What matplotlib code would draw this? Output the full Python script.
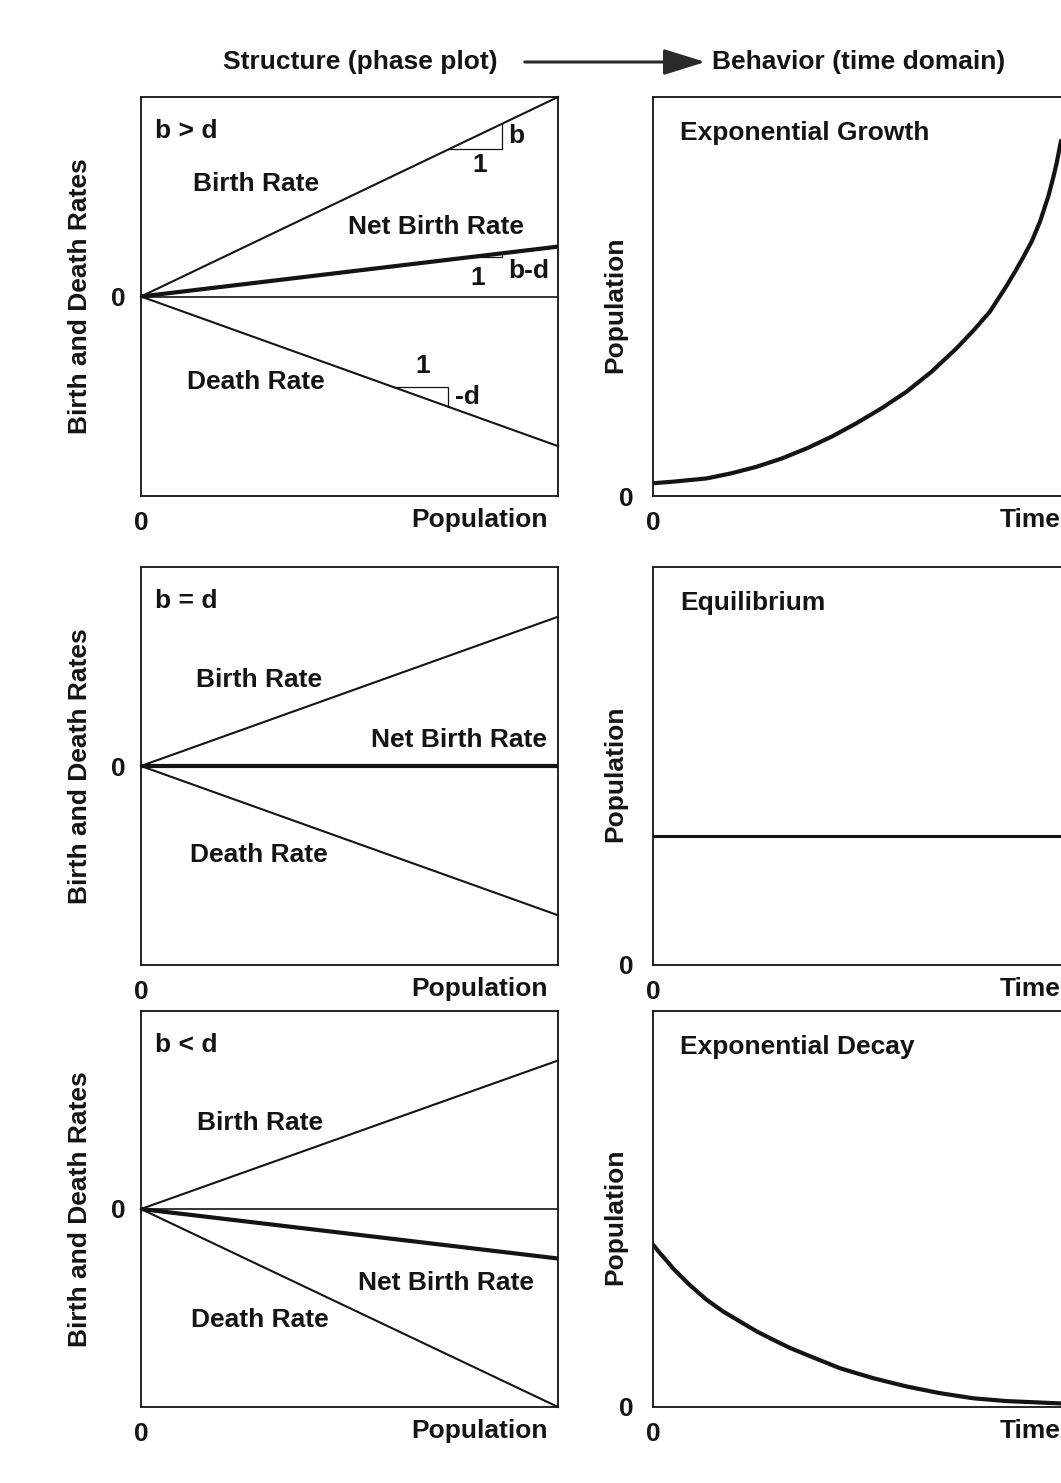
import numpy as np
import matplotlib
matplotlib.use('Agg')
import matplotlib.pyplot as plt
from matplotlib.patches import FancyArrowPatch

# --- data ----------------------------------------------------------------
conditions = ['b > d', 'b = d', 'b < d']
birth_slopes = [1.0, 0.75, 0.75]
death_slopes = [0.75, 0.75, 1.0]
net_slopes = [0.25, 0.0, -0.25]

behaviors = ['Exponential Growth', 'Equilibrium', 'Exponential Decay']

growth_time = [0.0, 0.049, 0.128, 0.188, 0.247, 0.308, 0.367, 0.428, 0.486,
               0.547, 0.606, 0.667, 0.726, 0.766, 0.806, 0.846, 0.866, 0.885,
               0.906, 0.926, 0.946, 0.958, 0.966, 0.976]
growth_pop = [0.032, 0.036, 0.044, 0.057, 0.073, 0.094, 0.119, 0.149, 0.182,
              0.220, 0.261, 0.312, 0.370, 0.414, 0.462, 0.527, 0.562, 0.597,
              0.638, 0.688, 0.752, 0.800, 0.836, 0.890]

equilibrium_pop = 0.324

decay_time = [0.0, 0.017, 0.033, 0.048, 0.089, 0.128, 0.168, 0.208, 0.248,
              0.287, 0.328, 0.367, 0.447, 0.526, 0.606, 0.686, 0.766, 0.845,
              0.976]
decay_pop = [0.410, 0.388, 0.369, 0.350, 0.307, 0.271, 0.241, 0.216, 0.191,
             0.170, 0.149, 0.132, 0.098, 0.073, 0.052, 0.035, 0.022, 0.015,
             0.009]

# slope triangles of the first phase plot: (x start, x end) on each line
triangle_birth = (0.74, 0.866)
triangle_net = (0.797, 0.866)
triangle_death = (0.605, 0.737)

# --- layout (pixels of the 1061 x 1483 page) -----------------------------
W, H = 1061, 1483
ROWS = [(97, 496), (567, 965), (1011, 1407)]
LEFT_X = (141, 558)
RIGHT_X = (653, 1071)

INK = '#141414'
FS = 19
plt.rcParams['font.family'] = ['Liberation Sans', 'DejaVu Sans']
plt.rcParams['font.weight'] = 'bold'

# label spots inside the phase plots (data coords), per row
birth_pos = [(0.125, 0.566), (0.132, 0.432), (0.134, 0.434)]
net_pos = [(0.496, 0.346), (0.552, 0.13), (0.52, -0.374)]
death_pos = [(0.110, -0.431), (0.118, -0.447), (0.12, -0.56)]


def px_axes(fig, xr, yr):
  x0, x1 = xr
  y0, y1 = yr
  return fig.add_axes([x0 / W, 1 - y1 / H, (x1 - x0) / W, (y1 - y0) / H])


def style(ax, right_label, ylabel, ylabel_x, ylabel_y, ypad):
  for s in ax.spines.values():
    s.set_linewidth(1.3)
    s.set_color(INK)
  ax.set_xticks([0])
  ax.set_xticklabels(['0'])
  ax.set_yticks([0])
  ax.set_yticklabels(['0'])
  ax.tick_params(length=0, labelsize=FS, colors=INK)
  ax.tick_params(axis='x', pad=11)
  ax.tick_params(axis='y', pad=ypad)
  for lab in ax.get_xticklabels() + ax.get_yticklabels():
    lab.set_fontweight('bold')
  ax.text(right_label[0], -0.06, right_label[1], transform=ax.transAxes,
          ha=right_label[2], va='center', fontsize=FS, color=INK)
  ax.text(ylabel_x, ylabel_y, ylabel, transform=ax.transAxes, rotation=90,
          ha='center', va='center', fontsize=FS, color=INK)


def slope_triangle(ax, slope, xs):
  x0, x1 = xs
  ax.plot([x0, x1, x1], [slope * x0, slope * x0, slope * x1],
          color=INK, lw=0.9, solid_joinstyle='miter')


def main():
  fig = plt.figure(figsize=(W / 100, H / 100), dpi=100)
  fig.patch.set_facecolor('white')

  pop = np.array([0.0, 1.0])
  for i, (y0, y1) in enumerate(ROWS):
    # structure: phase plot
    ax = px_axes(fig, LEFT_X, (y0, y1))
    ax.set_xlim(0, 1)
    ax.set_ylim(-1, 1)
    ax.axhline(0, color=INK, lw=1.2)
    ax.plot(pop, birth_slopes[i] * pop, color=INK, lw=1.5, clip_on=False)
    ax.plot(pop, -death_slopes[i] * pop, color=INK, lw=1.5, clip_on=False)
    ax.plot(pop, net_slopes[i] * pop, color=INK, lw=3.0)
    style(ax, (0.976, 'Population', 'right'), 'Birth and Death Rates',
          -0.146, 0.5, 11)
    ax.text(0.034, 0.83, conditions[i], fontsize=FS, color=INK, va='center')
    ax.text(*birth_pos[i], 'Birth Rate', fontsize=FS, color=INK, va='center')
    ax.text(*net_pos[i], 'Net Birth Rate', fontsize=FS, color=INK,
            va='center')
    ax.text(*death_pos[i], 'Death Rate', fontsize=FS, color=INK, va='center')

    if i == 0:
      slope_triangle(ax, birth_slopes[0], triangle_birth)
      slope_triangle(ax, net_slopes[0], triangle_net)
      slope_triangle(ax, -death_slopes[0], triangle_death)
      ax.text(0.88, 0.807, 'b', fontsize=FS, color=INK, va='center')
      ax.text(0.813, 0.657, '1', fontsize=FS, color=INK, va='center',
              ha='center')
      ax.text(0.88, 0.13, 'b-d', fontsize=FS, color=INK, va='center')
      ax.text(0.808, 0.095, '1', fontsize=FS, color=INK, va='center',
              ha='center')
      ax.text(0.676, -0.346, '1', fontsize=FS, color=INK, va='center',
              ha='center')
      ax.text(0.753, -0.506, '-d', fontsize=FS, color=INK, va='center')

    # behavior: time domain
    bx = px_axes(fig, RIGHT_X, (y0, y1))
    bx.set_xlim(0, 1)
    bx.set_ylim(0, 1)
    if i == 0:
      bx.plot(growth_time, growth_pop, color=INK, lw=3.0,
              solid_capstyle='round', solid_joinstyle='round')
    elif i == 1:
      bx.axhline(equilibrium_pop, color=INK, lw=2.2)
    else:
      bx.plot(decay_time, decay_pop, color=INK, lw=3.0,
              solid_capstyle='round', solid_joinstyle='round')
    style(bx, (0.83, 'Time', 'left'), 'Population', -0.091, 0.48, 14)
    bx.text(0.065, 0.91, behaviors[i], fontsize=FS, color=INK, va='center')

  # header with arrow
  fig.text(360 / W, 1 - 62 / H, 'Structure (phase plot)', ha='center',
           va='center', fontsize=FS, color=INK)
  fig.text(712 / W, 1 - 62 / H, 'Behavior (time domain)', ha='left',
           va='center', fontsize=FS, color=INK)
  arrow = FancyArrowPatch((522 / W, 1 - 62 / H), (708 / W, 1 - 62 / H),
                          transform=fig.transFigure, color='#2a2a2a',
                          arrowstyle='-|>,head_length=1.6,head_width=0.5',
                          mutation_scale=16, lw=2.2)
  fig.add_artist(arrow)

  fig.savefig('out.png', dpi=100, facecolor='white')
  plt.close(fig)


if __name__ == '__main__':
  main()
